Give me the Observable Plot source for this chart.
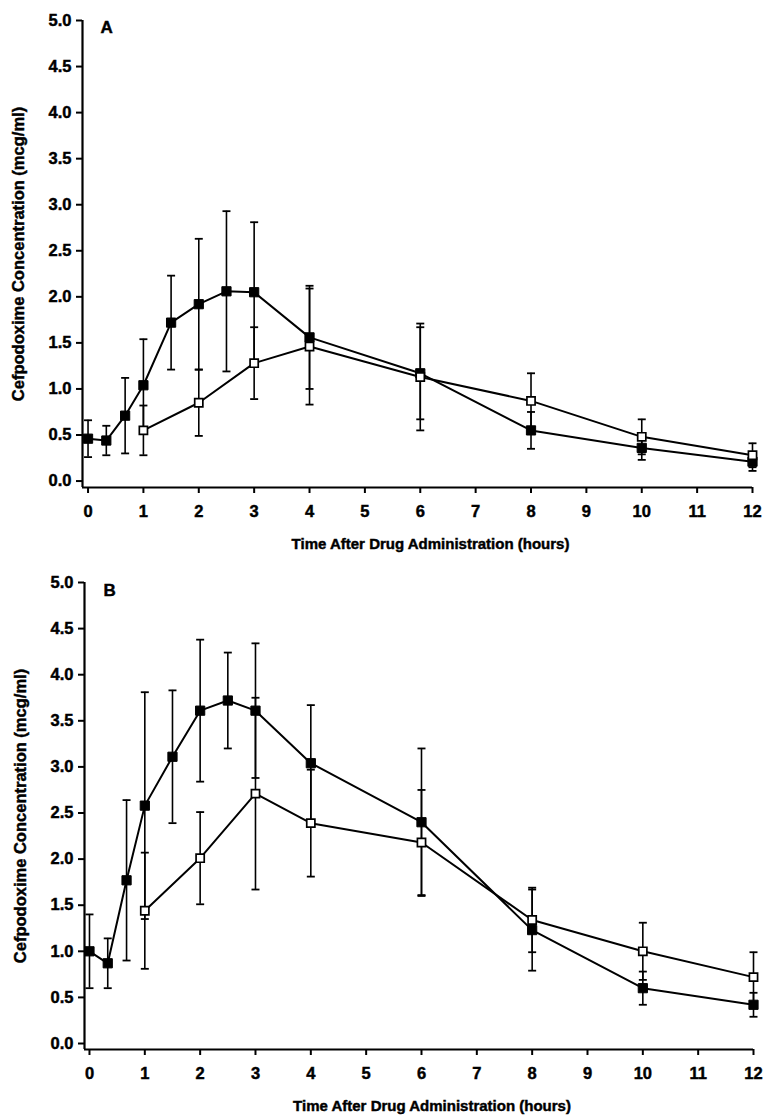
<!DOCTYPE html>
<html>
<head>
<meta charset="utf-8">
<script src="https://cdn.jsdelivr.net/npm/d3@7"></script>
<script src="https://cdn.jsdelivr.net/npm/@observablehq/plot@0.6"></script>
<style>
  body { margin: 0; background: #fff; }
  #chart svg { display: block; }
  #chart svg text { stroke: black; stroke-width: 0.45px; paint-order: stroke; }
</style>
</head>
<body>
<div id="chart"></div>
<script>
// ---- data ----
const xTicks = [0, 1, 2, 3, 4, 5, 6, 7, 8, 9, 10, 11, 12];
const yTicks = [0, 0.5, 1, 1.5, 2, 2.5, 3, 3.5, 4, 4.5, 5];
const panelLabels = ["A", "B"];
const xTitle = "Time After Drug Administration (hours)";
const yTitle = "Cefpodoxime Concentration (mcg/ml)";

const timesFilled = [0, 0.33, 0.67, 1, 1.5, 2, 2.5, 3, 4, 6, 8, 10, 12];
const timesOpen = [1, 2, 3, 4, 6, 8, 10, 12];

// Panel A
const aFilledMean = [0.46, 0.44, 0.71, 1.04, 1.72, 1.92, 2.06, 2.05, 1.56, 1.17, 0.55, 0.36, 0.21];
const aFilledErr  = [0.20, 0.16, 0.41, 0.50, 0.51, 0.71, 0.87, 0.76, 0.56, 0.50, 0.20, 0.13, 0.10];
const aOpenMean   = [0.55, 0.85, 1.28, 1.46, 1.13, 0.87, 0.48, 0.28];
const aOpenErr    = [0.27, 0.36, 0.39, 0.63, 0.58, 0.30, 0.19, 0.13];

// Panel B
const bFilledMean = [1.00, 0.87, 1.77, 2.58, 3.11, 3.61, 3.72, 3.61, 3.04, 2.40, 1.23, 0.60, 0.42];
const bFilledErr  = [0.40, 0.27, 0.87, 1.23, 0.72, 0.77, 0.52, 0.73, 0.63, 0.80, 0.44, 0.18, 0.13];
const bOpenMean   = [1.44, 2.01, 2.71, 2.39, 2.18, 1.34, 1.00, 0.72];
const bOpenErr    = [0.63, 0.50, 1.04, 0.58, 0.57, 0.35, 0.31, 0.27];

// ---- helpers ----
function rows(times, means, errs) {
  return times.map((t, i) => ({t, m: means[i], e: errs[i]}));
}

const capSymbol = {
  draw(ctx, size) {
    const w = Math.sqrt(size / Math.PI);
    ctx.moveTo(-w, 0);
    ctx.lineTo(w, 0);
  }
};

function panel(cfg) {
  const {label, filled, open, xDomain, yDomain, height, marginTop, marginBottom, marginLeft, marginRight, labelDx, labelDy} = cfg;
  const errMarks = (data) => [
    Plot.ruleX(data, {x: "t", y1: d => d.m - d.e, y2: d => d.m + d.e, stroke: "black", strokeWidth: 1.6}),
    Plot.dot(data, {x: "t", y: d => d.m + d.e, symbol: capSymbol, r: 4, fill: "none", stroke: "black", strokeWidth: 1.8}),
    Plot.dot(data, {x: "t", y: d => d.m - d.e, symbol: capSymbol, r: 4, fill: "none", stroke: "black", strokeWidth: 1.8})
  ];
  return Plot.plot({
    width: 763,
    height,
    marginTop, marginBottom, marginLeft, marginRight,
    style: {fontFamily: "'Liberation Sans', Arial, Helvetica, sans-serif", fontSize: "16.5px", fontWeight: "bold", color: "black", background: "white", overflow: "visible"},
    x: {domain: xDomain},
    y: {domain: yDomain},
    marks: [
      Plot.axisX({ticks: xTicks, tickSize: 6, tickPadding: 12, strokeWidth: 2, label: null}),
      Plot.axisY({ticks: yTicks, tickFormat: d3.format(".1f"), tickSize: 6, tickPadding: 5, strokeWidth: 2, label: null}),
      Plot.ruleX([xDomain[0]], {stroke: "black", strokeWidth: 2.2}),
      Plot.ruleY([yDomain[0]], {stroke: "black", strokeWidth: 2.2}),
      ...errMarks(filled),
      ...errMarks(open),
      Plot.line(filled, {x: "t", y: "m", stroke: "black", strokeWidth: 2}),
      Plot.line(open, {x: "t", y: "m", stroke: "black", strokeWidth: 2}),
      Plot.dot(filled, {x: "t", y: "m", symbol: "square", r: 5.2, fill: "black", stroke: "black", strokeWidth: 1}),
      Plot.dot(open, {x: "t", y: "m", symbol: "square", r: 4.6, fill: "white", stroke: "black", strokeWidth: 1.7}),
      Plot.text([label], {text: d => d, frameAnchor: "top-left", textAnchor: "start", lineAnchor: "top", dx: labelDx, dy: labelDy, fontSize: 17, fontWeight: "bold"}),
      Plot.text([xTitle], {text: d => d, frameAnchor: "bottom", textAnchor: "middle", lineAnchor: "top", dx: 13, dy: 51, fontSize: 15, fontWeight: "bold"}),
      Plot.text([yTitle], {text: d => d, frameAnchor: "left", textAnchor: "middle", rotate: -90, lineAnchor: "top", dx: -70, fontSize: 16.5, fontWeight: "bold"})
    ]
  });
}

const chart = document.getElementById("chart");
chart.append(panel({
  label: panelLabels[0],
  filled: rows(timesFilled, aFilledMean, aFilledErr),
  open: rows(timesOpen, aOpenMean, aOpenErr),
  xDomain: [-0.1, 12], yDomain: [-0.07, 5],
  height: 558, marginTop: 20, marginBottom: 71, marginLeft: 82, marginRight: 11,
  labelDx: 18, labelDy: 0
}));
chart.append(panel({
  label: panelLabels[1],
  filled: rows(timesFilled, bFilledMean, bFilledErr),
  open: rows(timesOpen, bOpenMean, bOpenErr),
  xDomain: [-0.09, 12], yDomain: [-0.065, 5],
  height: 558, marginTop: 24, marginBottom: 67, marginLeft: 84, marginRight: 10,
  labelDx: 19, labelDy: 1
}));
</script>
</body>
</html>
